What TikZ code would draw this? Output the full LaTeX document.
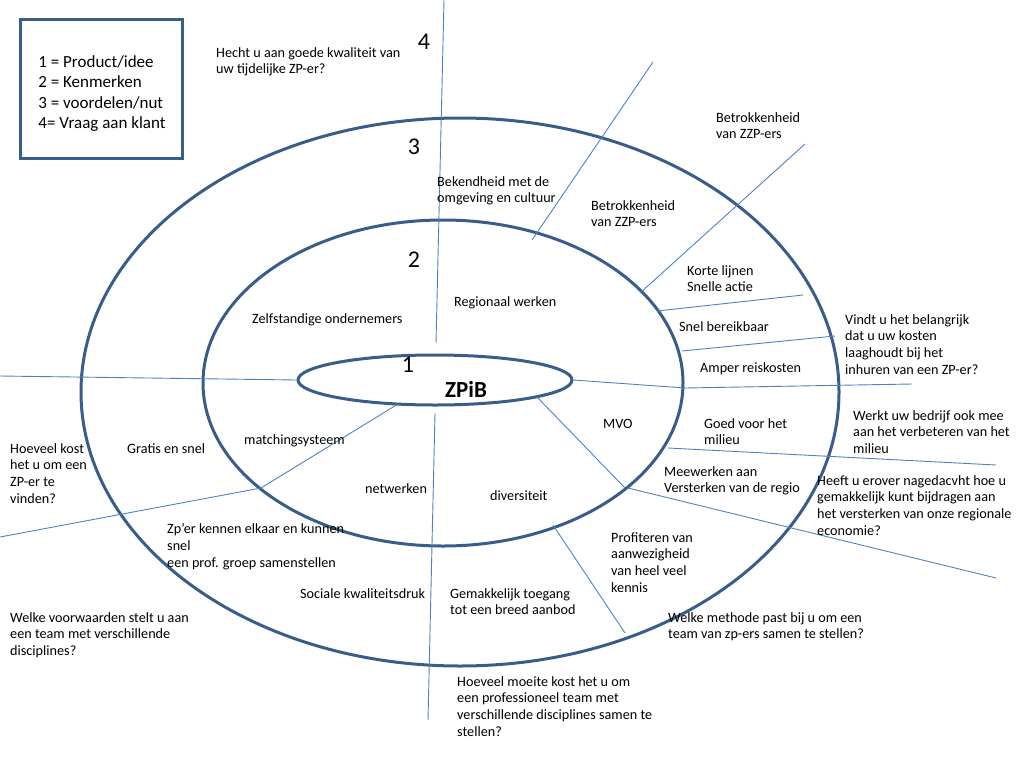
\documentclass[tikz,border=0pt]{standalone}
\usepackage{fontspec}
\setmainfont{Carlito}
\usetikzlibrary{positioning,shapes.geometric}
\definecolor{rim}{RGB}{56,93,138}
\definecolor{spoke}{RGB}{79,129,189}
\tikzset{ring/.style={ellipse, draw=rim, line width=3pt, inner sep=0pt},
         spk/.style={draw=spoke, line width=0.9pt},
         lbl/.style={anchor=north west, inner sep=0pt, align=left, yshift=-3pt,
                     font=\fontsize{14.2}{16.9}\selectfont},
         nr/.style={inner sep=0pt, font=\fontsize{24}{24}\selectfont}}

\begin{document}
\begin{tikzpicture}[x=1pt, y=-1pt]
\useasboundingbox (0,0) rectangle (1024,768);
\begin{scope}
 \node[ring, minimum width=758pt, minimum height=548pt] (ring3) at (460,392) {};
 \node[ring, minimum width=480pt, minimum height=326pt] (ring2) at (443,383) {};
 \node[ring, fill=white, minimum width=274pt, minimum height=50pt] (ring1) at (435,380) {};
 \node[inner sep=0pt, font=\fontsize{23}{23}\selectfont\bfseries] (zpib) at (466,389) {ZPiB};
\end{scope}
% spokes
\coordinate (t0) at (444,0);    \coordinate (t1) at (436,343);
\coordinate (b0) at (435,413);  \coordinate (b1) at (428,720);
\coordinate (ne0) at (653,62);  \coordinate (ne1) at (532,240);
\coordinate (ne2) at (805,144); \coordinate (ne3) at (640,293);
\coordinate (e0) at (657,311);  \coordinate (e1) at (803,295);
\coordinate (e2) at (682,351);  \coordinate (e3) at (835,336);
\coordinate (e4) at (685,388);  \coordinate (e5) at (912,384);
\coordinate (se0) at (668,448); \coordinate (se1) at (996,465);
\coordinate (se2) at (537,397); \coordinate (se3) at (625,488);
\coordinate (se4) at (628,488); \coordinate (se5) at (996,578);
\coordinate (s0) at (553,525);  \coordinate (s1) at (625,633);
\coordinate (sw0) at (398,404); \coordinate (sw1) at (261,488);
\coordinate (sw2) at (0,537);
\coordinate (w0) at (0,376);
\draw[spk] (t0) -- (t1);
\draw[spk] (b0) -- (b1);
\draw[spk] (ne0) -- (ne1);
\draw[spk] (ne2) -- (ne3);
\draw[spk] (e0) -- (e1);
\draw[spk] (e2) -- (e3);
\draw[spk] (ring1.east) -- (e4) -- (e5);
\draw[spk] (se0) -- (se1);
\draw[spk] (se2) -- (se3);
\draw[spk] (se4) -- (se5);
\draw[spk] (s0) -- (s1);
\draw[spk] (sw0) -- (sw1) -- (sw2);
\draw[spk] (w0) -- (ring1.west);
% ring numbers
\node[nr] (n4) at (424,42) {4};
\node[nr] (n3) at (414,147) {3};
\node[nr] (n2) at (414,260) {2};
\node[nr] (n1) at (408,365) {1};
% legend
\node[draw=rim, line width=3pt, minimum width=162pt, minimum height=138pt] (legend) at (101,89) {};
\node[align=left, inner sep=0pt, font=\fontsize{17}{20.4}\selectfont] (legendtxt) at (102,93.5)
      {1 = Product/idee\\2 = Kenmerken\\3 = voordelen/nut\\4= Vraag aan klant};
% labels
\node[lbl] (q1) at (216,44) {Hecht u aan goede kwaliteit van\\uw tijdelijke ZP-er?};
\node[lbl] (q2) at (716,109) {Betrokkenheid\\van ZZP-ers};
\node[lbl] (v1) at (437,173) {Bekendheid met de\\omgeving en cultuur};
\node[lbl] (v2) at (591,197) {Betrokkenheid\\van ZZP-ers};
\node[lbl] (v3) at (687,262) {Korte lijnen\\Snelle actie};
\node[lbl] (k1) at (454,293) {Regionaal werken};
\node[lbl] (k2) at (252,310) {Zelfstandige ondernemers};
\node[lbl] (v4) at (679,318) {Snel bereikbaar};
\node[lbl] (q3) at (845,311) {Vindt u het belangrijk\\dat u uw kosten\\laaghoudt bij het\\inhuren van een ZP-er?};
\node[lbl] (v5) at (700,359) {Amper reiskosten};
\node[lbl] (q4) at (853,407) {Werkt uw bedrijf ook mee\\aan het verbeteren van het\\milieu};
\node[lbl] (k3) at (603,416) {MVO};
\node[lbl] (v6) at (704,415) {Goed voor het\\milieu};
\node[lbl] (k4) at (244,431) {matchingsysteem};
\node[lbl] (q5) at (10,440) {Hoeveel kost\\het u om een\\ZP-er te\\vinden?};
\node[lbl] (v7) at (127,440) {Gratis en snel};
\node[lbl] (v8) at (664,463) {Meewerken aan\\Versterken van de regio};
\node[lbl, font=\fontsize{14.2}{16.7}\selectfont] (q6) at (817,472)
      {Heeft u erover nagedacvht hoe u\\gemakkelijk kunt bijdragen aan\\het versterken van onze regionale\\economie?};
\node[lbl] (k5) at (365,480) {netwerken};
\node[lbl] (k6) at (490,487) {diversiteit};
\node[lbl] (v9) at (167,520) {Zp’er kennen elkaar en kunnen\\snel\\een prof. groep samenstellen};
\node[lbl] (v10) at (611,529) {Profiteren van\\aanwezigheid\\van heel veel\\kennis};
\node[lbl] (v11) at (300,585) {Sociale kwaliteitsdruk};
\node[lbl] (v12) at (450,585) {Gemakkelijk toegang\\tot een breed aanbod};
\node[lbl] (q7) at (10,609) {Welke voorwaarden stelt u aan\\een team met verschillende\\disciplines?};
\node[lbl] (q8) at (668,609) {Welke methode past bij u om een\\team van zp-ers samen te stellen?};
\node[lbl] (q9) at (457,673) {Hoeveel moeite kost het u om\\een professioneel team met\\verschillende disciplines samen te\\stellen?};
\end{tikzpicture}
\end{document}
